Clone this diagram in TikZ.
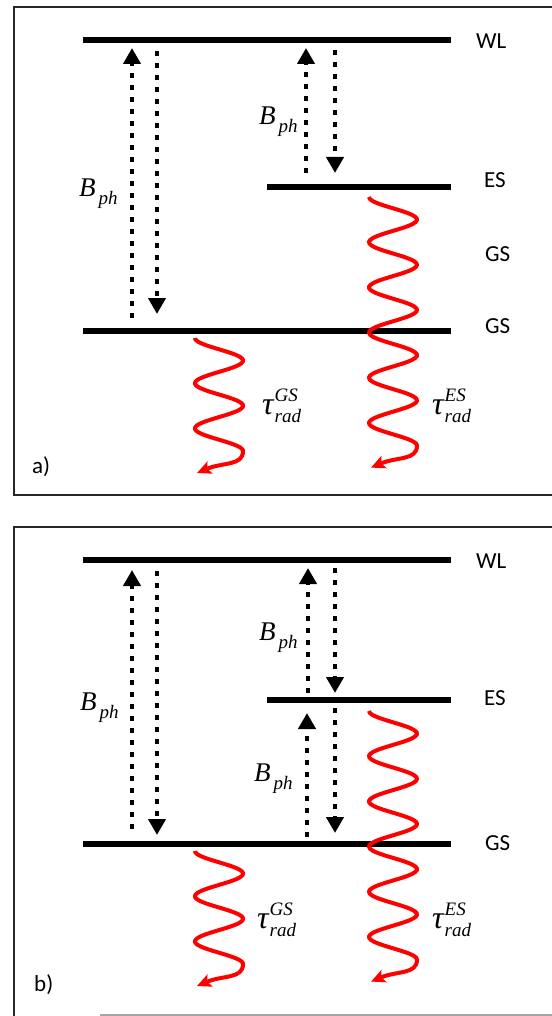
\documentclass[tikz,border=0pt]{standalone}
\usepackage{fontspec}
\setmainfont{Carlito}
\newfontfamily\timesfont{Liberation Serif}
\usetikzlibrary{arrows.meta}
\definecolor{framegray}{RGB}{38,38,38}

\newcommand{\bph}{{\timesfont\itshape\fontsize{27}{27}\selectfont B\raisebox{-8pt}{\fontsize{19}{19}\selectfont\kern3pt ph}}}
\newcommand{\tauof}[1]{{\timesfont\itshape\fontsize{32}{32}\selectfont τ\kern1pt\fontsize{19}{19}\selectfont\rlap{\raisebox{13pt}{#1}}\raisebox{-8pt}{rad}}}
\newcommand{\radwave}[3]{%
  \pgfmathsetmacro{\wend}{#2+#3*22.6}%
  \draw[emission] plot[domain=0:#3*22.6, samples=140, smooth] ({#1-24*cos(\x/22.6*180)},{#2+\x})
    .. controls (#1+24,\wend+15) and (#1+4,\wend+11) .. (#1-22,\wend+22);}

\begin{document}
\begin{tikzpicture}[x=1pt, y=-1pt,
    enlevel/.style={line width=5.4pt},
    panelframe/.style={draw=framegray, line width=2pt},
    phonon/.style={line width=4.7pt, dash pattern=on 4.7pt off 7.3pt, -{Triangle[width=17pt,length=16pt]}},
    emission/.style={red, line width=4pt, -{Stealth[length=14pt,width=13pt,inset=3pt]}},
    lab/.style={anchor=base west, inner sep=0pt, font=\fontsize{23}{26}\selectfont},
    sym/.style={anchor=base west, inner sep=0pt}
]
    \useasboundingbox (0,0) rectangle (551,1016);

    % panel a
    \draw[panelframe] (14,7) rectangle (580,495);
    \draw[enlevel] (83,40) -- (451,40);
    \draw[enlevel] (267,187) -- (451,187);
    \draw[enlevel] (83,331) -- (451,331);
    \node[lab] (wlA) at (476,49) {WL};
    \node[lab] (esA) at (484,188) {ES};
    \node[lab] (gsmA) at (485,261) {GS};
    \node[lab] (gsA) at (485,333) {GS};
    \node[lab] (tagA) at (32,473) {a)};
    \draw[phonon] (132,318) -- (132,48);
    \draw[phonon] (157,51) -- (157,314);
    \draw[phonon] (306,173) -- (306,48);
    \draw[phonon] (335,50) -- (335,173);
    \node[sym] (bphA) at (79,197) {\bph};
    \node[sym] (bphAr) at (259,125) {\bph};
    \radwave{393}{197}{11}
    \radwave{219}{338}{5}
    \node[sym] (tauGSA) at (262,414) {\tauof{GS}};
    \node[sym] (tauESA) at (432,414) {\tauof{ES}};

    % panel b
    \draw[panelframe] (14,1030) |- (580,527);
    \draw[gray!70, line width=1.5pt] (100,1015) -- (580,1015);
    \draw[enlevel] (83,560) -- (451,560);
    \draw[enlevel] (267,700) -- (451,700);
    \draw[enlevel] (83,844) -- (451,844);
    \node[lab] (wlB) at (476,568) {WL};
    \node[lab] (esB) at (484,705) {ES};
    \node[lab] (gsB) at (485,850) {GS};
    \node[lab] (tagB) at (34,991) {b)};
    \draw[phonon] (132,829) -- (132,570);
    \draw[phonon] (157,571) -- (157,835);
    \draw[phonon] (308,693) -- (308,568);
    \draw[phonon] (335,568) -- (335,693);
    \draw[phonon] (307,837) -- (307,713);
    \draw[phonon] (335,708) -- (335,833);
    \node[sym] (bphB) at (80,710) {\bph};
    \node[sym] (bphBu) at (259,640) {\bph};
    \node[sym] (bphBl) at (254,781) {\bph};
    \radwave{393}{711}{11}
    \radwave{219}{851}{5}
    \node[sym] (tauGSB) at (257,928) {\tauof{GS}};
    \node[sym] (tauESB) at (432,928) {\tauof{ES}};
\end{tikzpicture}
\end{document}
